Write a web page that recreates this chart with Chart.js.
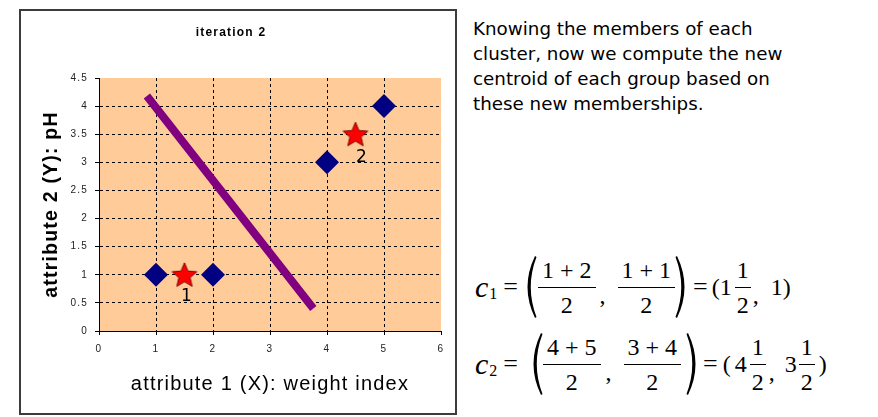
<!DOCTYPE html>
<html>
<head>
<meta charset="utf-8">
<script src="https://cdn.jsdelivr.net/npm/chart.js@4.4.0/dist/chart.umd.min.js"></script>
<style>
    body { margin: 0; width: 878px; height: 417px; overflow: hidden; position: relative; background: #fff; }
    #box { position: absolute; left: 19px; top: 9px; width: 434px; height: 402px; border: 2px solid #3c3c3c; background: #fff; }
    #txt { position: absolute; left: 473px; top: 16px; font-family: "DejaVu Sans", Verdana, sans-serif; font-size: 18.3px; line-height: 25px; color: #000; white-space: nowrap; }
    .eq { position: absolute; left: 475px; height: 66px; display: flex; align-items: center; font-family: "Liberation Serif", "Times New Roman", Tinos, serif; font-size: 24px; line-height: 24px; white-space: pre; color: #000; }
    .ci { font-style: italic; font-size: 30px; line-height: 24px; }
    .sub { font-size: 16px; position: relative; top: 7px; margin-left: 1px; }
    .op { font-size: 26px; }
    .fr { display: inline-flex; flex-direction: column; align-items: stretch; text-align: center; }
    .fr .nu { border-bottom: 1.5px solid #000; padding: 0 4px 5px 4px; }
    .fr .de { padding-top: 5px; }
    .fr.sm .nu { padding: 0 2px 5px 2px; }
    svg { display: block; }
</style>
</head>
<body>
<div id="box"><canvas id="grafico" width="434" height="402"></canvas></div>

<div id="txt">Knowing the members of each<br>cluster, now we compute the new<br>centroid of each group based on<br>these new memberships.</div>

<div class="eq" style="top:254px">
    <span class="ci">c</span><span class="sub">1</span><span class="op" style="margin-left:6px">=</span>
    <svg width="15" height="64" style="margin-left:4px"><path d="M13 1 Q-2 32 13 63 L14.5 62 Q3 32 14.5 2 Z"/></svg>
    <span class="fr" style="margin-left:1px"><span class="nu">1 + 2</span><span class="de">2</span></span>
    <span style="margin-left:4px;position:relative;top:8px">,</span>
    <span class="fr" style="margin-left:12px"><span class="nu">1 + 1</span><span class="de">2</span></span>
    <svg width="15" height="64"><path d="M2 1 Q17 32 2 63 L0.5 62 Q12 32 0.5 2 Z"/></svg>
    <span class="op" style="margin-left:3px">=</span>
    <span style="margin-left:4px">(1</span>
    <span class="fr sm" style="margin-left:3px"><span class="nu">1</span><span class="de">2</span></span>
    <span style="margin-left:2px;position:relative;top:8px">,</span>
    <span style="margin-left:12px">1)</span>
</div>

<div class="eq" style="top:331px">
    <span class="ci">c</span><span class="sub">2</span><span class="op" style="margin-left:6px">=</span>
    <svg width="15" height="64" style="margin-left:10px"><path d="M13 1 Q-2 32 13 63 L14.5 62 Q3 32 14.5 2 Z"/></svg>
    <span class="fr"><span class="nu">4 + 5</span><span class="de">2</span></span>
    <span style="margin-left:5px;position:relative;top:8px">,</span>
    <span class="fr" style="margin-left:12px"><span class="nu">3 + 4</span><span class="de">2</span></span>
    <svg width="15" height="64" style="margin-left:5px"><path d="M2 1 Q17 32 2 63 L0.5 62 Q12 32 0.5 2 Z"/></svg>
    <span class="op" style="margin-left:2px">=</span>
    <span style="margin-left:5px">(</span><span style="margin-left:4px">4</span>
    <span class="fr sm" style="margin-left:3px"><span class="nu">1</span><span class="de">2</span></span>
    <span style="margin-left:3px;position:relative;top:8px">,</span>
    <span style="margin-left:10px">3</span>
    <span class="fr sm" style="margin-left:2px"><span class="nu">1</span><span class="de">2</span></span>
    <span style="margin-left:4px">)</span>
</div>

<script>
// punti dei due gruppi
var puntiX = [1, 2, 4, 5];
var puntiY = [1, 1, 3, 4];
// centroidi (iterazione 2)
var centroidiX = [1.5, 4.5];
var centroidiY = [1, 3.5];
var etichetteCentroidi = ['1', '2'];
// linea di separazione
var lineaX = [0.84, 3.76];
var lineaY = [4.18, 0.40];
// assi
var assiX = { min: 0, max: 6, passo: 1 };
var assiY = { min: 0, max: 4.5, passo: 0.5 };

var fontSans = '"Liberation Sans", Arial, Arimo, Helvetica, sans-serif';

function creaStella(r) {
    var c = document.createElement('canvas');
    var s = Math.ceil(r * 2 + 4);
    c.width = s;
    c.height = s;
    var g = c.getContext('2d');
    g.beginPath();
    for (var i = 0; i < 10; i++) {
        var rr = (i % 2) ? r * 0.45 : r;
        var a = -Math.PI / 2 + i * Math.PI / 5;
        var px = s / 2 + rr * Math.cos(a);
        var py = s / 2 + 1 + rr * Math.sin(a);
        if (i === 0) g.moveTo(px, py); else g.lineTo(px, py);
    }
    g.closePath();
    g.fillStyle = '#ff0000';
    g.fill();
    g.strokeStyle = '#7a0000';
    g.lineWidth = 1;
    g.stroke();
    return c;
}

var punti = [];
for (var i = 0; i < puntiX.length; i++) {
    punti.push({ x: puntiX[i], y: puntiY[i] });
}
var centroidi = [];
for (var i = 0; i < centroidiX.length; i++) {
    centroidi.push({ x: centroidiX[i], y: centroidiY[i] });
}
var linea = [];
for (var i = 0; i < lineaX.length; i++) {
    linea.push({ x: lineaX[i], y: lineaY[i] });
}

// sfondo arancione dell'area del grafico
var sfondo = {
    id: 'sfondo',
    beforeDraw: function(chart) {
        var a = chart.chartArea;
        var ctx = chart.ctx;
        ctx.letterSpacing = '1.2px';
        ctx.save();
        ctx.fillStyle = '#ffcc99';
        ctx.fillRect(a.left, a.top, a.right - a.left, a.bottom - a.top);
        ctx.restore();
    }
};

// numeri sotto le stelle
var spostX = [2, 6];
var spostY = [22, 23];
var numeri = {
    id: 'numeri',
    afterDatasetsDraw: function(chart) {
        var meta = chart.getDatasetMeta(1);
        var ctx = chart.ctx;
        ctx.save();
        ctx.letterSpacing = '0px';
        ctx.font = '17px "DejaVu Sans", Verdana, sans-serif';
        ctx.fillStyle = '#000';
        ctx.textAlign = 'center';
        ctx.textBaseline = 'middle';
        for (var i = 0; i < meta.data.length; i++) {
            var p = meta.data[i];
            ctx.fillText(etichetteCentroidi[i], p.x + spostX[i], p.y + spostY[i]);
        }
        ctx.restore();
    }
};

var griglia = function(max) {
    return {
        color: function(c) { return (c.tick && c.tick.value === max) ? 'rgba(0,0,0,0)' : '#000'; },
        lineWidth: 1,
        tickColor: '#000',
        tickLength: 4,
        tickBorderDash: []
    };
};

var ctx = document.getElementById('grafico');
var chart = new Chart(ctx, {
    type: 'scatter',
    data: {
        datasets: [{
            label: 'punti',
            data: punti,
            pointStyle: 'rectRot',
            pointRadius: 12,
            backgroundColor: '#000080',
            borderWidth: 0
        }, {
            label: 'centroidi',
            data: centroidi,
            pointStyle: creaStella(13),
            pointRadius: 13
        }, {
            label: 'linea',
            type: 'line',
            data: linea,
            showLine: true,
            borderColor: '#800080',
            borderWidth: 8,
            borderCapStyle: 'butt',
            pointRadius: 0
        }]
    },
    options: {
        responsive: false,
        animation: false,
        events: [],
        layout: { padding: { left: 0, right: 14, top: 0, bottom: 0 } },
        plugins: {
            legend: { display: false },
            tooltip: { enabled: false },
            title: {
                display: true,
                text: 'iteration 2',
                color: '#000',
                font: { family: fontSans, size: 12, weight: 'bold' },
                padding: { top: 14, bottom: 38.6 }
            }
        },
        scales: {
            x: {
                type: 'linear',
                min: assiX.min,
                max: assiX.max,
                ticks: {
                    stepSize: assiX.passo, color: '#222', padding: 8,
                    font: { family: fontSans, size: 10 },
                    callback: function(v) { return String(v); }
                },
                grid: griglia(assiX.max),
                border: { color: '#000', width: 1, dash: [3, 3] },
                title: {
                    display: true,
                    text: 'attribute 1 (X): weight index',
                    color: '#000',
                    font: { family: fontSans, size: 20 },
                    padding: { top: 0, bottom: 17 }
                },
                afterFit: function(s) { s.height = 82; }
            },
            y: {
                type: 'linear',
                min: assiY.min,
                max: assiY.max,
                ticks: {
                    stepSize: assiY.passo, color: '#222', padding: 7,
                    font: { family: fontSans, size: 10 },
                    callback: function(v) { return String(v); }
                },
                grid: griglia(assiY.max),
                border: { color: '#000', width: 1, dash: [3, 3] },
                title: {
                    display: true,
                    text: 'attribute 2 (Y): pH',
                    color: '#000',
                    font: { family: fontSans, size: 19.5, weight: 'bold' },
                    padding: { top: 19, bottom: 0 }
                },
                afterFit: function(s) { s.width = 78; }
            }
        }
    },
    plugins: [sfondo, numeri]
});
</script>
</body>
</html>
